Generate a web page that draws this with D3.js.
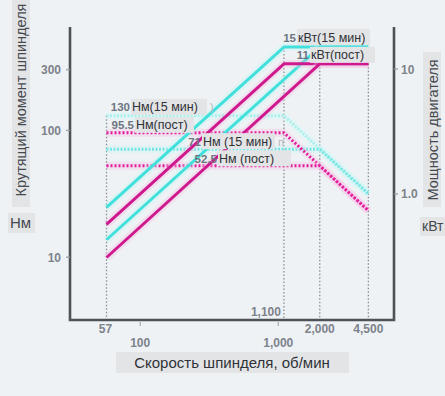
<!DOCTYPE html>
<html>
<head>
<meta charset="utf-8">
<script src="https://cdn.jsdelivr.net/npm/d3@7"></script>
<style>
  html, body { margin: 0; padding: 0; background: #eef2f5; }
  svg { display: block; font-family: "Liberation Sans", Arial, sans-serif; }
</style>
</head>
<body>
<svg id="chart" width="445" height="396"></svg>
<script>
// Spindle speed (rpm) breakpoints for the two winding ranges
const speedA = [57, 1100, 4500];
const speedB = [57, 2000, 4500];

// Motor output, kW (right axis)
const power15A = [0.78, 15, 15];
const power15B = [0.43, 15, 15];
const powerContA = [0.57, 11, 11];
const powerContB = [0.31, 11, 11];

// Spindle torque, N·m (left axis)
const torque15A = [130, 130, 31.8];
const torque15B = [71, 71, 31.6];
const torqueContA = [95.5, 95.5, 23.3];
const torqueContB = [52.5, 52.5, 23.3];

// Axis ticks and labels
const speedTicks = [100, 1000];
const speedTickLabels = ["100", "1,000"];
const speedMarks = [57, 1100, 2000, 4500];
const speedMarkLabels = ["57", "1,100", "2,000", "4,500"];
const torqueTicks = [10, 100, 300];
const torqueTickLabels = ["10", "100", "300"];
const powerTicks = [1, 10];
const powerTickLabels = ["1.0", "10"];

const svg = d3.select("#chart");
const plotL = 70, plotR = 394, plotT = 27, plotB = 320;

const x = d3.scaleLog().domain([31, 6900]).range([plotL, plotR]);
const yT = d3.scaleLog().domain([3.2, 640]).range([plotB, 28]);
const yP = d3.scaleLog().domain([0.098, 21.3]).range([plotB, 28]);

const magenta = "#cf1a8f", cyan = "#42e0dc";

// vertical guide lines at the characteristic speeds
const guideTops = [yT(130), yP(15), yP(11), yP(11)];
svg.append("g").selectAll("line").data(speedMarks).join("line")
  .attr("x1", d => x(d)).attr("x2", d => x(d))
  .attr("y1", (d, i) => guideTops[i]).attr("y2", plotB)
  .attr("stroke", "#8a8f96").attr("stroke-width", 1.3)
  .attr("stroke-dasharray", "1.5,2");

function series(sp, vals, scale, color, width, dash, halo) {
  const pts = sp.map((s, i) => [x(s), scale(vals[i])]);
  const line = d3.line();
  svg.append("path").attr("d", line(pts)).attr("fill", "none")
    .attr("stroke", halo).attr("stroke-width", width + 5).attr("opacity", 0.35)
    .attr("stroke-linejoin", "round");
  svg.append("path").attr("d", line(pts)).attr("fill", "none")
    .attr("stroke", color).attr("stroke-width", width)
    .attr("stroke-dasharray", dash).attr("stroke-linejoin", "round");
}

// torque curves (dotted)
series(speedA, torque15A, yT, "#a6f0ee", 3, "2,1.5", "#d3f8f6");
series(speedB, torque15B, yT, "#74e6e4", 3, "2,1.5", "#c9f7f5");
series(speedA, torqueContA, yT, "#e21c9c", 3, "2,2", "#f6c4e4");
series(speedB, torqueContB, yT, "#e21c9c", 3, "2,2", "#f6c4e4");

// power curves (solid)
series(speedA, power15A, yP, cyan, 3, null, "#bff5f2");
series(speedB, power15B, yP, cyan, 3, null, "#bff5f2");
series(speedA, powerContA, yP, magenta, 3, null, "#f4c0e0");
series(speedB, powerContB, yP, magenta, 3, null, "#f4c0e0");

// frame
const axisColor = "#4d5257";
svg.append("path")
  .attr("d", `M${plotL},${plotT}V${plotB}H${plotR}V${plotT}`)
  .attr("fill", "none").attr("stroke", axisColor).attr("stroke-width", 2.6);

const tickText = "#7d838b";

// left axis ticks
const lt = svg.append("g");
lt.selectAll("line").data(torqueTicks).join("line")
  .attr("x1", plotL - 4).attr("x2", plotL).attr("y1", d => yT(d)).attr("y2", d => yT(d))
  .attr("stroke", "#999").attr("stroke-width", 1.2);
lt.selectAll("text").data(torqueTicks).join("text")
  .attr("x", plotL - 9).attr("y", d => yT(d) + 4.5)
  .attr("text-anchor", "end").attr("font-size", 12).attr("font-weight", "bold")
  .attr("fill", tickText).text((d, i) => torqueTickLabels[i]);

// right axis ticks
const rt = svg.append("g");
rt.selectAll("line").data(powerTicks).join("line")
  .attr("x1", plotR).attr("x2", plotR + 4).attr("y1", d => yP(d)).attr("y2", d => yP(d))
  .attr("stroke", "#999").attr("stroke-width", 1.2);
rt.selectAll("text").data(powerTicks).join("text")
  .attr("x", plotR + 7).attr("y", d => yP(d) + 4.5)
  .attr("font-size", 12).attr("font-weight", "bold")
  .attr("fill", tickText).text((d, i) => powerTickLabels[i]);

// bottom axis: decade ticks below, characteristic speeds
const bt = svg.append("g");
bt.selectAll("line").data(speedTicks).join("line")
  .attr("x1", d => x(d)).attr("x2", d => x(d)).attr("y1", plotB + 2).attr("y2", plotB + 6)
  .attr("stroke", "#aaa").attr("stroke-width", 1.2);
bt.selectAll("text").data(speedTicks).join("text")
  .attr("x", d => x(d)).attr("y", 347)
  .attr("text-anchor", "middle").attr("font-size", 12).attr("font-weight", "bold")
  .attr("fill", tickText).text((d, i) => speedTickLabels[i]);

const markPos = [
  { dx: -1, y: 333, anchor: "middle" },
  { dx: -3, y: 316, anchor: "end" },
  { dx: 0, y: 333, anchor: "middle" },
  { dx: 0, y: 333, anchor: "middle" }
];
bt.append("g").selectAll("text").data(speedMarks).join("text")
  .attr("x", (d, i) => x(d) + markPos[i].dx).attr("y", (d, i) => markPos[i].y)
  .attr("text-anchor", (d, i) => markPos[i].anchor)
  .attr("font-size", 12).attr("font-weight", "bold")
  .attr("fill", tickText).text((d, i) => speedMarkLabels[i]);

// value callouts: bold number just left of a boxed unit caption
function callout(num, cap, cy, bx, bw, extra) {
  svg.append("text").attr("x", bx - 1).attr("y", cy + 4.5)
    .attr("text-anchor", "end")
    .attr("font-size", 11.5).attr("font-weight", "bold").attr("fill", "#6d7580")
    .text(num);
  svg.append("rect").attr("x", bx).attr("y", cy - 8).attr("width", bw).attr("height", 16)
    .attr("fill", "#e3e4e6");
  svg.append("text").attr("x", bx + 1).attr("y", cy + 4.5)
    .attr("font-size", 12.5).attr("fill", "#2f3236").text(cap);
  if (extra) {
    svg.append("text").attr("x", bx + bw + 3).attr("y", cy + 4.5)
      .attr("font-size", 11).attr("fill", "#b4b9c0").text(extra);
  }
}
callout("130", "Нм(15 мин)", yT(130) - 9, 131, 76, ")");
callout("95.5", "Нм(пост)", yT(95.5) - 8, 135, 59);
callout("71", "Нм (15 мин)", yT(71) - 8, 202, 73, "п");
callout("52.5", "Нм (пост)", yT(52.5) - 7.5, 218, 73);
callout("15", "кВт(15 мин)", yP(15) - 10, 297, 73);
callout("11", "кВт(пост)", yP(11) - 9, 310, 65);

// axis titles on grey panels
svg.append("rect").attr("x", 12).attr("y", 0).attr("width", 18).attr("height", 207).attr("fill", "#e3e4e6");
svg.append("text").attr("transform", "translate(26,100) rotate(-90)")
  .attr("text-anchor", "middle").attr("font-size", 14.5).attr("fill", "#45494e")
  .text("Крутящий момент шпинделя");

svg.append("rect").attr("x", 8).attr("y", 213).attr("width", 27).attr("height", 20).attr("fill", "#e3e4e6");
svg.append("text").attr("x", 10).attr("y", 228).attr("font-size", 15).attr("fill", "#45494e").text("Нм");

svg.append("rect").attr("x", 423).attr("y", 52).attr("width", 18).attr("height", 155).attr("fill", "#e3e4e6");
svg.append("text").attr("transform", "translate(438,130) rotate(-90)")
  .attr("text-anchor", "middle").attr("font-size", 14.5).attr("fill", "#45494e")
  .text("Мощность двигателя");

svg.append("rect").attr("x", 420).attr("y", 217).attr("width", 25).attr("height", 19).attr("fill", "#e3e4e6");
svg.append("text").attr("x", 422).attr("y", 231).attr("font-size", 14).attr("fill", "#45494e").text("кВт");

svg.append("rect").attr("x", 116).attr("y", 352).attr("width", 233).attr("height", 21).attr("fill", "#e3e4e6");
svg.append("text").attr("x", 232).attr("y", 368).attr("text-anchor", "middle")
  .attr("font-size", 15).attr("fill", "#2f3236").text("Скорость шпинделя, об/мин");
</script>
</body>
</html>
